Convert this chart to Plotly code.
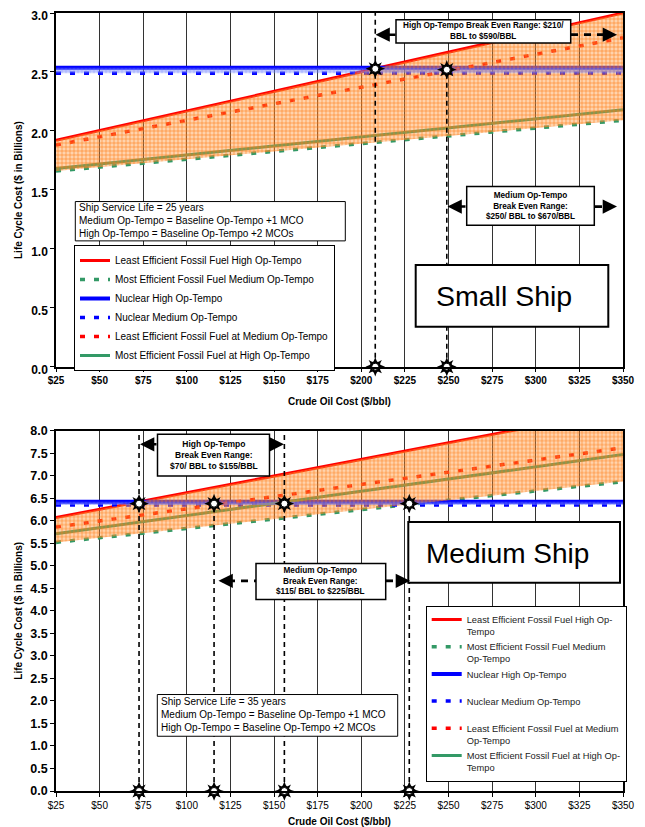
import plotly.graph_objects as go

# ---------------- data ----------------
oil_price = [25, 350]
tick_vals = [25, 50, 75, 100, 125, 150, 175, 200, 225, 250, 275, 300, 325, 350]
tick_text = ["$25", "$50", "$75", "$100", "$125", "$150", "$175", "$200", "$225",
             "$250", "$275", "$300", "$325", "$350"]

# Small ship ($ billions)
small_lf_high = [1.92, 3.00]   # Least Efficient Fossil Fuel High Op-Tempo
small_mf_med = [1.66, 2.09]    # Most Efficient Fossil Fuel Medium Op-Tempo
small_nuc_high = [2.535, 2.535]
small_nuc_med = [2.49, 2.49]
small_lf_med = [1.88, 2.79]
small_mf_high = [1.68, 2.18]
small_be_x = [208, 249]
small_be_y = [2.527, 2.519]
small_be_full = [True, False]

# Medium ship ($ billions)
medium_lf_high = [6.07, 8.47]
medium_mf_med = [5.52, 6.87]
medium_nuc_high = [6.42, 6.42]
medium_nuc_med = [6.35, 6.35]
medium_lf_med = [5.86, 7.62]
medium_mf_high = [5.71, 7.47]
medium_be_x = [72.6, 115.6, 155.9, 227.5]
medium_be_y = [6.38, 6.38, 6.38, 6.38]
medium_be_full = [True, False, True, False]

series_names_top = [
    "Least Efficient Fossil Fuel High Op-Tempo",
    "Most Efficient Fossil Fuel Medium Op-Tempo",
    "Nuclear High Op-Tempo",
    "Nuclear Medium Op-Tempo",
    "Least Efficient Fossil Fuel at Medium Op-Tempo",
    "Most Efficient Fossil Fuel at High Op-Tempo",
]
series_names_bottom = [
    "Least Efficient Fossil Fuel High Op-<br>Tempo",
    "Most Efficient Fossil Fuel Medium<br>Op-Tempo",
    "Nuclear High Op-Tempo<br> ",
    "Nuclear Medium Op-Tempo<br> ",
    "Least Efficient Fossil Fuel at Medium<br>Op-Tempo",
    "Most Efficient Fossil Fuel at High Op-<br>Tempo",
]

RED = "#FF0000"
GREEN = "#339966"
BLUE = "#0000FF"
styles = [
    dict(color=RED, width=3, dash="solid"),
    dict(color=GREEN, width=3.5, dash="5px,9px"),
    dict(color=BLUE, width=4, dash="solid"),
    dict(color=BLUE, width=3.5, dash="5px,9px"),
    dict(color=RED, width=3.5, dash="5px,9px"),
    dict(color=GREEN, width=3, dash="solid"),
]

ARIAL = "Liberation Sans, Arial, sans-serif"

fig = go.Figure()


def add_chart(xa, ya, legend, series, names, be_x, be_y, be_full, ytop):
    for vals, name, st in zip(series, names, styles):
        fig.add_trace(go.Scatter(x=oil_price, y=vals, mode="lines", name=name,
                                 line=st, xaxis=xa, yaxis=ya, legend=legend,
                                 hoverinfo="skip"))
    # orange hatched band
    fig.add_trace(go.Scatter(x=oil_price, y=series[1], mode="lines", line=dict(width=0),
                             showlegend=False, xaxis=xa, yaxis=ya, hoverinfo="skip"))
    fig.add_trace(go.Scatter(x=oil_price, y=series[0], mode="lines", line=dict(width=0),
                             fill="tonexty", fillcolor="rgba(255,145,50,0.40)",
                             fillpattern=dict(shape="+", fgcolor="#FF7A10", fgopacity=0.9,
                                              size=4, solidity=0.28, fillmode="overlay"),
                             showlegend=False, xaxis=xa, yaxis=ya, hoverinfo="skip"))
    # light blue band between nuclear lines
    fig.add_trace(go.Scatter(x=oil_price, y=series[3], mode="lines", line=dict(width=0),
                             showlegend=False, xaxis=xa, yaxis=ya, hoverinfo="skip"))
    fig.add_trace(go.Scatter(x=oil_price, y=series[2], mode="lines", line=dict(width=0),
                             fill="tonexty", fillcolor="rgba(120,140,255,0.35)",
                             fillpattern=dict(shape="+", fgcolor="#6070FF", fgopacity=0.6,
                                              size=4, solidity=0.25, fillmode="overlay"),
                             showlegend=False, xaxis=xa, yaxis=ya, hoverinfo="skip"))
    # dashed vertical break-even lines
    vx, vy = [], []
    for bx, by, full in zip(be_x, be_y, be_full):
        vx += [bx, bx, None]
        vy += [0, ytop if full else by, None]
    fig.add_trace(go.Scatter(x=vx, y=vy, mode="lines",
                             line=dict(color="black", width=1.6, dash="5px,4px"),
                             showlegend=False, xaxis=xa, yaxis=ya, hoverinfo="skip",
                             cliponaxis=False))
    # sun-shaped markers
    mx = list(be_x) + list(be_x)
    my = list(be_y) + [0] * len(be_x)
    for sym, size in (("star-diamond", 14), ("star-square", 12)):
        fig.add_trace(go.Scatter(x=mx, y=my, mode="markers",
                                 marker=dict(symbol=sym, size=size, color="black",
                                             line=dict(width=0)),
                                 showlegend=False, xaxis=xa, yaxis=ya, hoverinfo="skip",
                                 cliponaxis=False))
    fig.add_trace(go.Scatter(x=mx, y=my, mode="markers",
                             marker=dict(symbol="circle", size=7, color="white",
                                         line=dict(width=1, color="black")),
                             showlegend=False, xaxis=xa, yaxis=ya, hoverinfo="skip",
                             cliponaxis=False))


add_chart("x", "y", "legend",
          [small_lf_high, small_mf_med, small_nuc_high, small_nuc_med, small_lf_med, small_mf_high],
          series_names_top, small_be_x, small_be_y, small_be_full, 3.0)
add_chart("x2", "y2", "legend2",
          [medium_lf_high, medium_mf_med, medium_nuc_high, medium_nuc_med, medium_lf_med, medium_mf_high],
          series_names_bottom, medium_be_x, medium_be_y, medium_be_full, 8.0)

# ---------------- layout helpers (screen pixel -> axis positions) ----------------
OFF = 8                     # page body margin
W, H = 645 - OFF, 827 - OFF
PL, PR = 56, 623            # plot left/right on screen
PT, PB = 13, 791            # plot top/bottom on screen
PH = PB - PT


def px_x(px):
    return 25 + (px - PL) / (PR - PL) * 325


def top_y(py):
    return 3.0 - (py - 13.3) / 117.8


def bot_y(py):
    return 8.0 - (py - 430.7) / 45.0


def paper_x(px):
    return (px - PL) / (PR - PL)


def paper_y(py):
    return (PB - py) / PH


shapes = []
annotations = []


def box(x0, y0, x1, y1, xr, yr, w=1.5):
    shapes.append(dict(type="rect", xref=xr, yref=yr, x0=x0, x1=x1, y0=y0, y1=y1,
                       line=dict(color="black", width=w), fillcolor="white", layer="above"))


def text(x, y, t, xr, yr, size=8.5, align="center", xanchor="center"):
    annotations.append(dict(x=x, y=y, xref=xr, yref=yr, text=t, showarrow=False,
                            font=dict(family=ARIAL, size=size, color="black"),
                            align=align, xanchor=xanchor, yanchor="middle"))


def arrow(tip_x, y, start_x, xr, yr):
    annotations.append(dict(x=tip_x, y=y, ax=start_x, ay=y, xref=xr, yref=yr,
                            axref=xr, ayref=yr, text="", showarrow=True,
                            arrowhead=2, arrowsize=1.1, arrowwidth=2.6,
                            arrowcolor="black", standoff=0, startstandoff=0))


def dline(x0, x1, y, xr, yr):
    shapes.append(dict(type="line", xref=xr, yref=yr, x0=x0, x1=x1, y0=y, y1=y,
                       line=dict(color="black", width=2.8, dash="7px,6px"), layer="above"))


# --- top chart (Small Ship) ---
ay = top_y(35)
arrow(px_x(375.5), ay, px_x(397), "x", "y")
dline(px_x(571), px_x(605), ay, "x", "y")
arrow(px_x(617), ay, px_x(604), "x", "y")
box(px_x(396), top_y(43.3), px_x(570.7), top_y(20), "x", "y")
text(px_x(483.4), top_y(31.7), "<b>High Op-Tempo Break Even Range: $210/<br>BBL to $590/BBL</b>",
     "x", "y", size=8.2)

ay = top_y(206.7)
arrow(px_x(447.5), ay, px_x(467), "x", "y")
dline(px_x(595), px_x(606), ay, "x", "y")
arrow(px_x(617), ay, px_x(605), "x", "y")
box(px_x(466.7), top_y(225.3), px_x(594.3), top_y(186.7), "x", "y")
text(px_x(530.5), top_y(206), "<b>Medium Op-Tempo<br>Break Even Range:<br>$250/ BBL to $670/BBL</b>",
     "x", "y", size=8.2)

box(px_x(415.7), top_y(326.7), px_x(608.3), top_y(265), "x", "y", w=2)
text(px_x(504), top_y(296), "Small Ship", "x", "y", size=28.5)

box(px_x(75.3), top_y(241), px_x(345.3), top_y(201.7), "x", "y", w=1)
text(px_x(77), top_y(220.5),
     "Ship Service Life = 25 years<br>Medium Op-Tempo = Baseline Op-Tempo +1 MCO<br>"
     "High Op-Tempo = Baseline Op-Tempo +2 MCOs",
     "x", "y", size=10, align="left", xanchor="left")

# --- bottom chart (Medium Ship) ---
ay = bot_y(444.3)
arrow(px_x(140), ay, px_x(158), "x2", "y2")
arrow(px_x(284), ay, px_x(269), "x2", "y2")
box(px_x(157.5), bot_y(476), px_x(269.5), bot_y(434.3), "x2", "y2")
text(px_x(213.5), bot_y(455), "<b>High Op-Tempo<br>Break Even Range:<br>$70/ BBL to $155/BBL</b>",
     "x2", "y2", size=8.5)

ay = bot_y(580.7)
dline(px_x(228), px_x(256), ay, "x2", "y2")
arrow(px_x(218.5), ay, px_x(232), "x2", "y2")
dline(px_x(386), px_x(398), ay, "x2", "y2")
arrow(px_x(410), ay, px_x(397), "x2", "y2")
box(px_x(256), bot_y(599.3), px_x(385.7), bot_y(563.3), "x2", "y2")
text(px_x(320.8), bot_y(581), "<b>Medium Op-Tempo<br>Break Even Range:<br>$115/ BBL to $225/BBL</b>",
     "x2", "y2", size=8.2)

box(px_x(408.3), bot_y(582.7), px_x(620), bot_y(522), "x2", "y2", w=2)
text(px_x(507), bot_y(553), "Medium Ship", "x2", "y2", size=28)

box(px_x(157.3), bot_y(736), px_x(397.7), bot_y(694.3), "x2", "y2", w=1)
text(px_x(159), bot_y(714.5),
     "Ship Service Life = 35 years<br>Medium Op-Tempo = Baseline Op-Tempo +1 MCO<br>"
     "High Op-Tempo = Baseline Op-Tempo +2 MCOs",
     "x2", "y2", size=10, align="left", xanchor="left")

# axis titles
for py in (401, 821):
    annotations.append(dict(x=0.5, y=paper_y(py), xref="paper", yref="paper",
                            text="<b>Crude Oil Cost ($/bbl)</b>", showarrow=False,
                            font=dict(family=ARIAL, size=10, color="black"),
                            xanchor="center", yanchor="middle"))
for py in (190, 610.7):
    annotations.append(dict(x=paper_x(19), y=paper_y(py), xref="paper", yref="paper",
                            text="<b>Life Cycle Cost ($ in Billions)</b>", showarrow=False,
                            textangle=-90, font=dict(family=ARIAL, size=10, color="black"),
                            xanchor="center", yanchor="middle"))

axis_common = dict(showline=True, linecolor="black", linewidth=1.5, mirror=True,
                   ticks="outside", ticklen=4, tickcolor="black", zeroline=False,
                   ticklabeloverflow="allow")

fig.update_layout(
    width=W, height=H,
    margin=dict(l=PL - OFF, r=645 - PR, t=PT - OFF, b=H - (PB - OFF), pad=0, autoexpand=False),
    paper_bgcolor="white", plot_bgcolor="white",
    font=dict(family=ARIAL, color="black"),
    xaxis=dict(domain=[0, 1], anchor="y", range=[25, 350], tickvals=tick_vals, ticktext=tick_text,
               showgrid=True, gridcolor="#333333", gridwidth=1,
               tickfont=dict(family=ARIAL, size=10, color="black", weight="bold"), **axis_common),
    yaxis=dict(domain=[paper_y(366.7), 1], anchor="x", range=[0, 3], dtick=0.5, tickformat=".1f",
               showgrid=False, ticklabelshift=3,
               tickfont=dict(family=ARIAL, size=12, color="black", weight="bold"), **axis_common),
    xaxis2=dict(domain=[0, 1], anchor="y2", range=[25, 350], tickvals=tick_vals, ticktext=tick_text,
                showgrid=True, gridcolor="#333333", gridwidth=1,
                tickfont=dict(family=ARIAL, size=10, color="black"), **axis_common),
    yaxis2=dict(domain=[0, paper_y(430.7)], anchor="x2", range=[0, 8], dtick=0.5, tickformat=".1f",
                showgrid=False,
                tickfont=dict(family=ARIAL, size=12.5, color="black", weight="bold"), **axis_common),
    legend=dict(x=paper_x(74), y=paper_y(245), xanchor="left", yanchor="top",
                bgcolor="white", bordercolor="black", borderwidth=1, traceorder="normal",
                font=dict(family=ARIAL, size=10, color="black"), tracegroupgap=0),
    legend2=dict(x=paper_x(425.7), y=paper_y(606), xanchor="left", yanchor="top",
                 bgcolor="white", bordercolor="black", borderwidth=1, valign="top",
                 traceorder="normal",
                 font=dict(family=ARIAL, size=9.3, color="#222222"), tracegroupgap=0),
    shapes=shapes,
    annotations=annotations,
    showlegend=True,
)

fig.write_html("out.html")
